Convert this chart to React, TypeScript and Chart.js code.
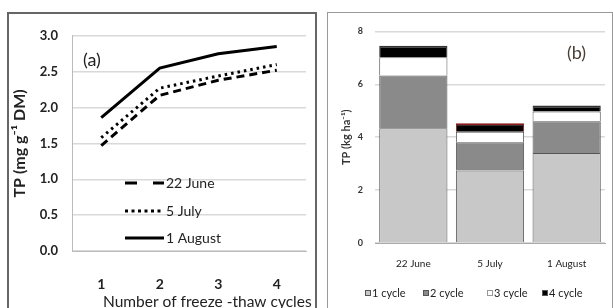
import React, { useEffect, useRef } from 'react';
import { Chart, registerables } from 'chart.js';
Chart.register(...registerables);

const cycleLabels = ['1', '2', '3', '4'];
const june22 = [1.47, 2.17, 2.38, 2.52];
const july5 = [1.58, 2.27, 2.44, 2.6];
const aug1 = [1.86, 2.55, 2.75, 2.85];
const lineSeriesNames = ['22 June', '5 July', '1 August'];

const dateCategories = ['22 June', '5 July', '1 August'];
const cycle1 = [4.34, 2.74, 3.4];
const cycle2 = [1.99, 1.07, 1.2];
const cycle3 = [0.69, 0.4, 0.37];
const cycle4 = [0.44, 0.32, 0.23];
const cycleNames = ['1 cycle', '2 cycle', '3 cycle', '4 cycle'];

const FONT = 'Lato, "Open Sans", sans-serif';

export default function App() {
  const leftRef = useRef<HTMLCanvasElement>(null);
  const rightRef = useRef<HTMLCanvasElement>(null);

  useEffect(() => {
    const dashes = [[8, 5], [2.5, 4], []];
    const legendDashes = [[12, 16], [3, 3.5], []];

    const leftPlugin = {
      id: 'leftExtras',
      afterDraw(chart: any) {
        const ctx = chart.ctx;
        ctx.save();
        ctx.fillStyle = '#222';
        ctx.font = `18px ${FONT}`;
        ctx.textBaseline = 'middle';
        ctx.textAlign = 'left';
        ctx.fillText('(a)', 74, 46);
        const rows = [169, 197, 224];
        lineSeriesNames.forEach((n, i) => {
          ctx.beginPath();
          ctx.strokeStyle = '#000';
          ctx.lineWidth = 3;
          ctx.setLineDash(legendDashes[i]);
          ctx.moveTo(116, rows[i]);
          ctx.lineTo(155, rows[i]);
          ctx.stroke();
          ctx.setLineDash([]);
          ctx.font = `14px ${FONT}`;
          ctx.fillText(n, 157, rows[i]);
        });
        ctx.font = `15.5px ${FONT}`;
        ctx.fillText('Number of freeze -thaw cycles', 94, 288);
        ctx.restore();
      },
    };

    const c1 = new Chart(leftRef.current as HTMLCanvasElement, {
      type: 'line',
      data: {
        labels: cycleLabels,
        datasets: [june22, july5, aug1].map((d, i) => ({
          label: lineSeriesNames[i],
          data: d,
          borderColor: '#000',
          borderWidth: 3,
          borderDash: dashes[i],
          pointRadius: 0,
          fill: false,
          tension: 0,
        })),
      },
      options: {
        animation: false,
        responsive: false,
        devicePixelRatio: 1,
        layout: { padding: { top: 12, right: 8, left: 0, bottom: 0 } },
        plugins: { legend: { display: false }, tooltip: { enabled: false } },
        scales: {
          x: {
            type: 'category',
            offset: true,
            grid: { display: false, drawTicks: false },
            border: { display: true, color: '#bbb' },
            ticks: { font: { family: FONT, size: 14, weight: 'bold' }, color: '#222', padding: 25 },
            afterFit: (s: any) => { s.height = 57; },
          },
          y: {
            min: 0,
            max: 3,
            ticks: {
              stepSize: 0.5,
              callback: (v: any) => Number(v).toFixed(1),
              font: { family: FONT, size: 13, weight: 'bold' },
              color: '#222',
              padding: 14,
            },
            grid: { color: '#d9d9d9', lineWidth: 1.5, drawTicks: false },
            border: { display: true, color: '#bbb' },
            title: {
              display: true,
              text: 'TP (mg g⁻¹ DM)',
              font: { family: FONT, size: 16, weight: 'bold' },
              color: '#222',
              padding: { top: 1, bottom: 0 },
            },
            afterFit: (s: any) => { s.width = 63; },
          },
        },
      },
      plugins: [leftPlugin],
    } as any);

    const rightPlugin = {
      id: 'rightExtras',
      afterDraw(chart: any) {
        const ctx = chart.ctx;
        ctx.save();
        ctx.textBaseline = 'middle';
        ctx.textAlign = 'left';
        ctx.fillStyle = '#4a3f35';
        ctx.font = `18px ${FONT}`;
        ctx.fillText('(b)', 239, 39);
        const fills = ['#c8c8c8', '#8a8a8a', '#ffffff', '#000000'];
        const mx = [37, 95, 159, 214];
        ctx.font = `11px ${FONT}`;
        cycleNames.forEach((n, i) => {
          ctx.fillStyle = fills[i];
          ctx.fillRect(mx[i], 276, 6, 6);
          ctx.strokeStyle = i === 2 ? '#999' : '#555';
          ctx.lineWidth = 1;
          ctx.strokeRect(mx[i] + 0.5, 276.5, 5, 5);
          ctx.fillStyle = '#222';
          ctx.fillText(n, mx[i] + 7, 279);
        });
        ctx.restore();
      },
    };

    const c2 = new Chart(rightRef.current as HTMLCanvasElement, {
      type: 'bar',
      data: {
        labels: dateCategories,
        datasets: [
          { label: cycleNames[0], data: cycle1, backgroundColor: '#c8c8c8', borderColor: '#555', borderWidth: 1 },
          { label: cycleNames[1], data: cycle2, backgroundColor: '#8a8a8a', borderColor: '#555', borderWidth: 1 },
          { label: cycleNames[2], data: cycle3, backgroundColor: '#ffffff', borderColor: '#555', borderWidth: 1 },
          {
            label: cycleNames[3],
            data: cycle4,
            backgroundColor: '#000000',
            borderColor: ['#333', '#8b1a1a', '#333'],
            borderWidth: { top: 2, left: 1, right: 1, bottom: 0 },
          },
        ].map((d) => ({ ...d, categoryPercentage: 1, barPercentage: 0.89 })),
      },
      options: {
        animation: false,
        responsive: false,
        devicePixelRatio: 1,
        layout: { padding: { top: 17, right: 7, left: 0, bottom: 0 } },
        plugins: { legend: { display: false }, tooltip: { enabled: false } },
        scales: {
          x: {
            stacked: true,
            grid: { display: false, drawTicks: false },
            border: { display: true, color: '#aaa' },
            ticks: { font: { family: FONT, size: 10 }, color: '#222', padding: 15 },
            afterFit: (s: any) => { s.height = 65; },
          },
          y: {
            stacked: true,
            min: 0,
            max: 8,
            ticks: { stepSize: 2, font: { family: FONT, size: 9, weight: 'bold' }, color: '#333', padding: 12 },
            grid: { color: '#d9d9d9', lineWidth: 1.5, drawTicks: false },
            border: { display: false },
            title: {
              display: true,
              text: 'TP (kg ha⁻¹)',
              font: { family: FONT, size: 11, weight: 'bold' },
              color: '#333',
              padding: { top: 12, bottom: 0 },
            },
            afterFit: (s: any) => { s.width = 47; },
          },
        },
      },
      plugins: [rightPlugin],
    } as any);

    return () => {
      c1.destroy();
      c2.destroy();
    };
  }, []);

  return (
    <div style={{ position: 'absolute', left: 0, top: 0, width: 613, height: 308, overflow: 'hidden', background: '#fff' }}>
      <div style={{ position: 'absolute', left: 7, top: 12, width: 306, height: 310, border: '2px solid #666' }} />
      <div style={{ position: 'absolute', left: 327, top: 12, width: 284, height: 310, border: '1px solid #999' }} />
      <canvas ref={leftRef} width={305} height={294} style={{ position: 'absolute', left: 9, top: 14, width: 305, height: 294 }} />
      <canvas ref={rightRef} width={284} height={294} style={{ position: 'absolute', left: 328, top: 14, width: 284, height: 294 }} />
    </div>
  );
}
